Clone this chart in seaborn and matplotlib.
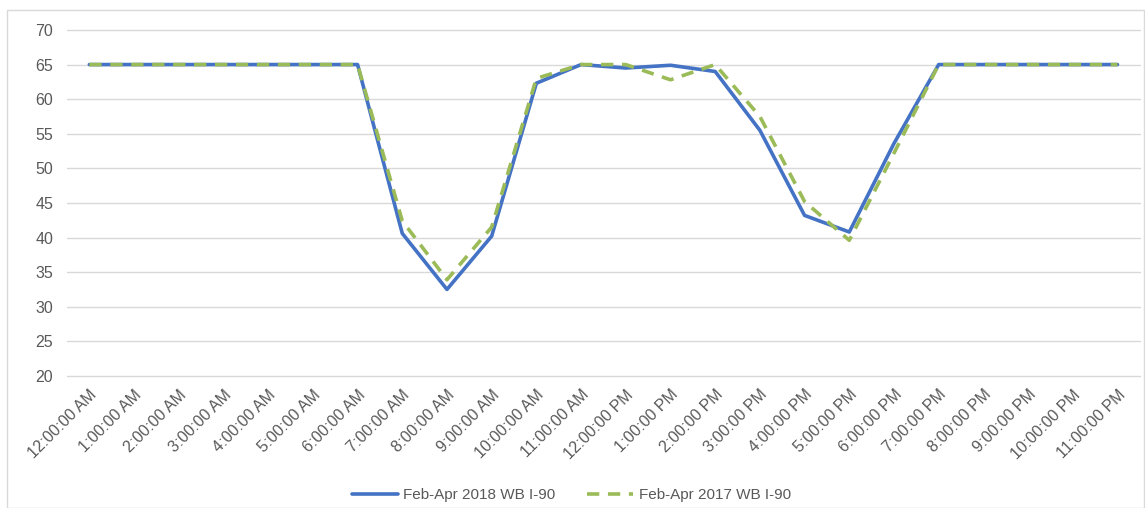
import pandas as pd
import matplotlib.pyplot as plt
import seaborn as sns
from matplotlib.patches import Rectangle

# Hour labels (category axis)
hours = ["12:00:00 AM", "1:00:00 AM", "2:00:00 AM", "3:00:00 AM", "4:00:00 AM", "5:00:00 AM",
         "6:00:00 AM", "7:00:00 AM", "8:00:00 AM", "9:00:00 AM", "10:00:00 AM", "11:00:00 AM",
         "12:00:00 PM", "1:00:00 PM", "2:00:00 PM", "3:00:00 PM", "4:00:00 PM", "5:00:00 PM",
         "6:00:00 PM", "7:00:00 PM", "8:00:00 PM", "9:00:00 PM", "10:00:00 PM", "11:00:00 PM"]

speed_2018 = [65, 65, 65, 65, 65, 65, 65, 40.6, 32.5, 40.2, 62.3, 65,
              64.5, 64.9, 64.0, 55.5, 43.2, 40.8, 53.6, 65, 65, 65, 65, 65]
speed_2017 = [65, 65, 65, 65, 65, 65, 65, 42.4, 33.9, 41.5, 63.0, 65,
              65, 62.8, 65, 57.5, 45.2, 39.6, 52.2, 65, 65, 65, 65, 65]

label_2018 = "Feb-Apr 2018 WB I-90"
label_2017 = "Feb-Apr 2017 WB I-90"


def main():
    sns.set_theme(style="white")
    plt.rcParams["font.family"] = ["Liberation Sans", "DejaVu Sans"]

    df = pd.DataFrame({"pos": range(len(hours)), "y2018": speed_2018, "y2017": speed_2017})

    fig = plt.figure(figsize=(11.45, 5.08), dpi=100)
    ax = fig.add_axes([0.0585, 0.26, 0.937, 0.681])

    sns.lineplot(data=df, x="pos", y="y2018", ax=ax, color="#4472C4", linewidth=2.6,
                 label=label_2018)
    sns.lineplot(data=df, x="pos", y="y2017", ax=ax, color="#9BBB59", linewidth=2.6,
                 linestyle=(0, (3.4, 2.4)), label=label_2017)

    ax.set_xlim(-0.5, len(hours) - 0.5)
    ax.set_ylim(20, 70)
    ax.set_yticks(range(20, 71, 5))
    ax.set_xticks(range(len(hours)))
    ax.set_xticklabels(hours, rotation=45, ha="right", rotation_mode="anchor")
    ax.tick_params(axis="both", labelsize=11.5, colors="#595959", length=0)
    ax.tick_params(axis="y", pad=10)
    ax.tick_params(axis="x", pad=8)
    ax.grid(axis="y", color="#D9D9D9", linewidth=1)
    for gl in ax.get_ygridlines():
        gl.set_clip_on(False)
    ax.set_axisbelow(True)
    for s in ax.spines.values():
        s.set_visible(False)
    ax.set_xlabel("")
    ax.set_ylabel("")

    ax.legend(loc="upper center", bbox_to_anchor=(0.47, -0.285), ncol=2, frameon=False,
              fontsize=11, handlelength=3.0, handletextpad=0.35, columnspacing=2.1,
              labelcolor="#595959")

    # chart border
    fig.patches.append(Rectangle((0.006, 0.0), 0.993, 0.98, transform=fig.transFigure,
                                 fill=False, edgecolor="#D9D9D9", linewidth=1))

    fig.savefig("out.png", dpi=100)


if __name__ == "__main__":
    main()
